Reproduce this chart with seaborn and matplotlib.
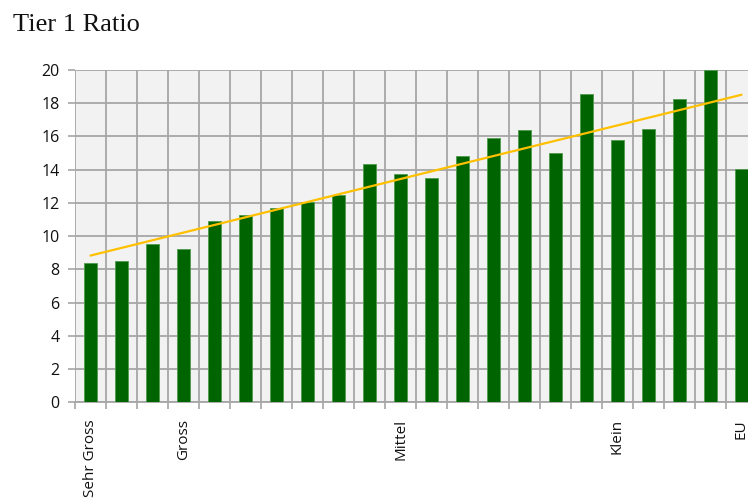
import numpy as np
import pandas as pd
import matplotlib
matplotlib.use("Agg")
import matplotlib.pyplot as plt
import seaborn as sns

# Tier 1 ratio per bank group, ordered from largest to smallest, EU average last
values = [8.37, 8.49, 9.52, 9.22, 10.92, 11.28, 11.69, 12.05, 12.45, 14.34, 13.77,
          13.47, 14.80, 15.92, 16.40, 15.00, 18.57, 15.76, 16.46, 18.23, 20.00, 14.04]
group_labels = ["Sehr Gross", "", "", "Gross", "", "", "", "", "", "", "Mittel",
                "", "", "", "", "", "", "Klein", "", "", "", "EU"]
y_ticks = [0, 2, 4, 6, 8, 10, 12, 14, 16, 18, 20]

df = pd.DataFrame({"pos": np.arange(len(values)), "ratio": values})

sns.set_theme(style="white")
plt.rcParams["font.family"] = ["Open Sans", "DejaVu Sans"]

fig = plt.figure(figsize=(7.48, 4.99), dpi=100)
ax = fig.add_axes([75 / 748, 96.7 / 499, 682 / 748, 332.3 / 499])
ax.set_facecolor("#f2f2f2")

sns.barplot(data=df, x="pos", y="ratio", color="#006400", width=0.43,
            edgecolor="#4f9a4f", linewidth=0.6, saturation=1, ax=ax, zorder=3)

# linear trend over all groups
coef = np.polyfit(df["pos"], df["ratio"], 1)
trend = np.polyval(coef, df["pos"])
ax.plot(df["pos"], trend, color="#ffc000", linewidth=1.6, zorder=4)

n = len(values)
ax.set_xlim(-0.5, n - 0.5)
ax.set_ylim(0, 20)

ax.set_yticks(y_ticks)
ax.set_yticklabels([str(t) for t in y_ticks])
ax.set_xticks(np.arange(n))
ax.set_xticklabels(group_labels, rotation=90, va="top", ha="center")
ax.set_xticks(np.arange(n + 1) - 0.5, minor=True)

grid_kw = dict(color="#a6a6a6", linewidth=1.3, zorder=1)
ax.grid(axis="y", which="major", **grid_kw)
ax.grid(axis="x", which="minor", **grid_kw)
ax.set_axisbelow(True)

ax.tick_params(axis="y", which="major", length=5, width=1.2, color="#a6a6a6",
               pad=6, labelsize=11.5, labelcolor="#111111", left=True)
ax.tick_params(axis="x", which="major", length=0, pad=12, labelsize=11,
               labelcolor="#111111")
ax.tick_params(axis="x", which="minor", length=5, width=1.2, color="#a6a6a6",
               bottom=True)

for side in ["top", "right", "left"]:
    ax.spines[side].set_visible(False)
ax.spines["bottom"].set_color("#a6a6a6")
ax.spines["bottom"].set_linewidth(1.3)

ax.set_xlabel("")
ax.set_ylabel("")

fig.text(13 / 748, 1 - 31 / 499, "Tier 1 Ratio", family="Liberation Serif",
         fontsize=19, color="#111111", va="baseline", ha="left")

fig.savefig("out.png", dpi=100)
